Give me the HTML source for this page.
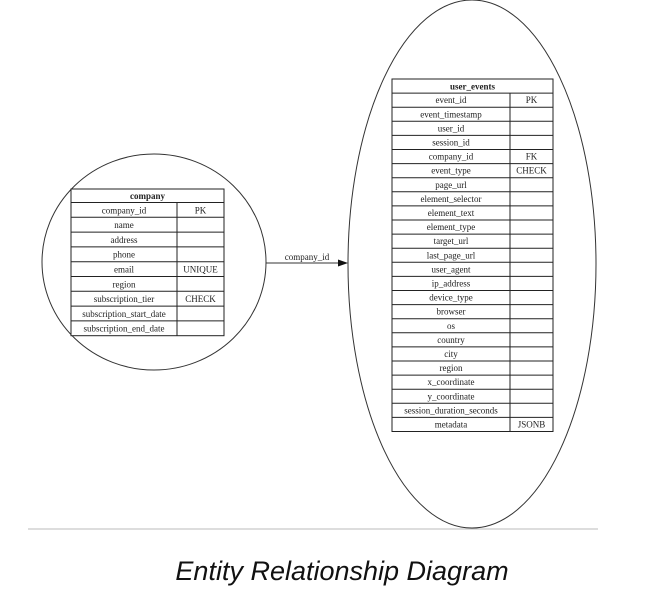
<!DOCTYPE html>
<html><head><meta charset="utf-8"><style>
html,body{margin:0;padding:0;background:#fff;width:666px;height:590px;overflow:hidden}
svg text{font-family:"Liberation Serif",serif;font-size:9px;fill:#222}
.cap{font-family:"Liberation Sans",sans-serif;font-style:italic;font-size:27px;fill:#111}
</style></head><body>
<svg width="666" height="590" viewBox="0 0 666 590" xmlns="http://www.w3.org/2000/svg">
<ellipse cx="154" cy="262" rx="112" ry="108" fill="none" stroke="#333" stroke-width="1"/>
<ellipse cx="472" cy="264" rx="124" ry="264" fill="none" stroke="#333" stroke-width="1"/>
<line x1="266" y1="263" x2="339" y2="263" stroke="#333"/>
<polygon points="348,263 338,259.5 338,266.5" fill="#111"/>
<text x="307" y="260" text-anchor="middle">company_id</text>
<line x1="28" y1="529" x2="598" y2="529" stroke="#bbb" stroke-width="1"/>
<text class="cap" x="342" y="580" text-anchor="middle">Entity Relationship Diagram</text>
<g id="t1"></g><g id="t2"></g>
</svg>
<script>
function tbl(g,x,y,w,div,hh,rh,title,rows){
 var s='';
 var h=hh+rh*rows.length;
 s+='<rect x="'+x+'" y="'+y+'" width="'+w+'" height="'+h+'" fill="#fff" stroke="#222"/>';
 s+='<text x="'+(x+w/2)+'" y="'+(y+hh-3.5)+'" text-anchor="middle" font-weight="bold">'+title+'</text>';
 for(var i=0;i<rows.length;i++){
  var yy=y+hh+i*rh;
  s+='<line x1="'+x+'" y1="'+yy+'" x2="'+(x+w)+'" y2="'+yy+'" stroke="#222"/>';
  s+='<text x="'+((x+div)/2)+'" y="'+(yy+rh-4)+'" text-anchor="middle">'+rows[i][0]+'</text>';
  if(rows[i][1])s+='<text x="'+((div+x+w)/2)+'" y="'+(yy+rh-4)+'" text-anchor="middle">'+rows[i][1]+'</text>';
 }
 s+='<line x1="'+div+'" y1="'+(y+hh)+'" x2="'+div+'" y2="'+(y+h)+'" stroke="#222"/>';
 document.getElementById(g).innerHTML=s;
}
tbl('t1',71,189,153,177,13.5,14.8,'company',[['company_id','PK'],['name'],['address'],['phone'],['email','UNIQUE'],['region'],['subscription_tier','CHECK'],['subscription_start_date'],['subscription_end_date']]);
tbl('t2',392,79,161,510,14.1,14.1,'user_events',[['event_id','PK'],['event_timestamp'],['user_id'],['session_id'],['company_id','FK'],['event_type','CHECK'],['page_url'],['element_selector'],['element_text'],['element_type'],['target_url'],['last_page_url'],['user_agent'],['ip_address'],['device_type'],['browser'],['os'],['country'],['city'],['region'],['x_coordinate'],['y_coordinate'],['session_duration_seconds'],['metadata','JSONB']]);
</script>
</body></html>
